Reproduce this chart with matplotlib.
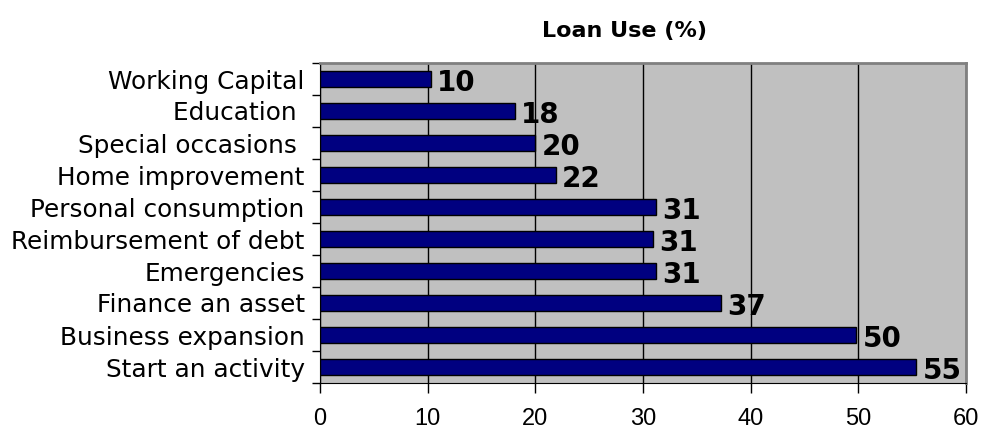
import numpy as np
import matplotlib.pyplot as plt

categories = ['Start an activity', 'Business expansion', 'Finance an asset',
              'Emergencies', 'Reimbursement of debt', 'Personal consumption',
              'Home improvement', 'Special occasions ', 'Education ',
              'Working Capital']
values = [55.4, 49.8, 37.2, 31.2, 30.9, 31.2, 21.9, 20.0, 18.1, 10.3]
x_ticks = [0, 10, 20, 30, 40, 50, 60]

fig = plt.figure(figsize=(9.82, 4.30), dpi=100)
ax = fig.add_axes([320 / 982, 1 - 383 / 430, (966 - 320) / 982, (383 - 63) / 430])

y = np.arange(len(categories))
ax.barh(y, values, height=0.47, color='#000080', edgecolor='black', linewidth=1, zorder=3)

# value labels
for yi, v in zip(y, values):
    ax.text(v + 0.6, yi - 0.12, '%d' % round(v), fontsize=20, fontweight='bold',
            family='DejaVu Sans', va='center', ha='left', zorder=4)

ax.set_xlim(0, 60)
ax.set_ylim(-0.5, len(categories) - 0.5)
ax.set_facecolor('#C0C0C0')

ax.set_xticks(x_ticks)
ax.set_xticklabels([str(t) for t in x_ticks], family='Liberation Sans', fontsize=17)
ax.tick_params(axis='x', length=7, width=1, pad=11, color='black')

# ticks at category boundaries, labels at centres
ax.set_yticks(np.arange(-0.5, len(categories), 1.0))
ax.set_yticklabels([])
ax.tick_params(axis='y', which='major', length=6, width=1)
ax.set_yticks(y, minor=True)
ax.set_yticklabels(categories, minor=True, fontsize=17.8, family='DejaVu Sans')
ax.tick_params(axis='y', which='minor', length=0, pad=11)

ax.grid(axis='x', color='black', linewidth=1, zorder=1)
ax.set_axisbelow(True)

ax.spines['left'].set_color('black')
ax.spines['bottom'].set_color('black')
ax.spines['top'].set_color('#808080')
ax.spines['right'].set_color('#808080')
ax.spines['top'].set_linewidth(2)
ax.spines['right'].set_linewidth(2)

fig.text(624 / 982, 1 - 31 / 430, 'Loan Use (%)', ha='center', va='center',
         fontsize=16, fontweight='bold', family='DejaVu Sans')

fig.savefig('out.png', dpi=100)
